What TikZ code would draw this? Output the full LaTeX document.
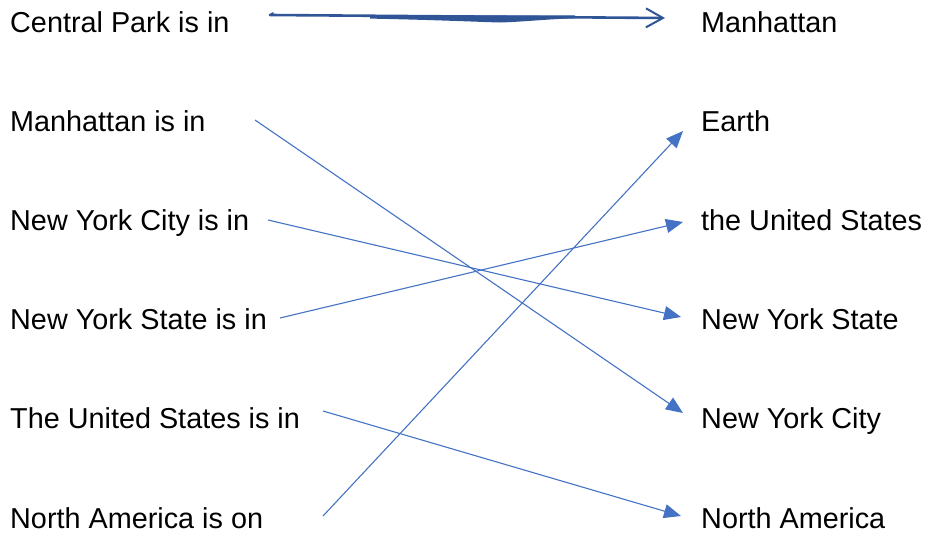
\documentclass[tikz,border=0pt]{standalone}
\usepackage{fontspec}
\setmainfont{Liberation Sans}
\usetikzlibrary{arrows.meta}
\definecolor{linkblue}{HTML}{4472C4}
\definecolor{inkblue}{HTML}{2F5597}
\begin{document}
\begin{tikzpicture}[x=1pt,y=-1pt,
    lbl/.style={anchor=base west,inner sep=0pt,font=\fontsize{28.8}{34}\selectfont},
    link/.style={draw=linkblue,line width=1.1pt,-{Triangle[length=17pt,width=14pt]}}]
        \useasboundingbox (0,0) rectangle (928,533);
        % left column
        \node[lbl] (cpi) at (10,32) {Central Park is in};
        \node[lbl] (mi) at (10,131) {Manhattan is in};
        \node[lbl] (nyci) at (10,230) {New York City is in};
        \node[lbl] (nysi) at (10,329) {New York State is in};
        \node[lbl] (usi) at (10,428) {The United States is in};
        \node[lbl] (nai) at (10,528) {North America is on};
        % right column
        \node[lbl] (man) at (701,32) {Manhattan};
        \node[lbl] (earth) at (701,131) {Earth};
        \node[lbl] (us) at (701,230) {the United States};
        \node[lbl] (nys) at (701,329) {New York State};
        \node[lbl] (nyc) at (701,428) {New York City};
        \node[lbl] (na) at (701,528) {North America};
        % arrow ends
        \coordinate (cpi-out) at (270,15);
        \coordinate (man-in) at (665,18);
        \coordinate (mi-out) at (255,120);
        \coordinate (nyc-in) at (683,413);
        \coordinate (nyci-out) at (268,220);
        \coordinate (nys-in) at (681,317);
        \coordinate (nysi-out) at (280,318);
        \coordinate (us-in) at (683,222);
        \coordinate (usi-out) at (323,411);
        \coordinate (na-in) at (681,516);
        \coordinate (nai-out) at (323,516);
        \coordinate (earth-in) at (683,131);
        % hand drawn one
        \fill[inkblue] (370,15.6) -- (370,18.6) .. controls (440,20) and (480,22) .. (500,22.5)
            .. controls (520,22) and (550,19) .. (575,18.2) -- (575,15.4) -- cycle;
        \draw[inkblue,line width=2.6pt,line cap=round,-{Straight Barb[length=17pt,width=19pt,line width=2pt]}] (cpi-out) -- (man-in);
        \draw[inkblue,line width=1.8pt,line cap=round] (cpi-out) -- (273,13);
        % the matches
        \draw[link] (mi-out) -- (nyc-in);
        \draw[link] (nyci-out) -- (nys-in);
        \draw[link] (nysi-out) -- (us-in);
        \draw[link] (usi-out) -- (na-in);
        \draw[link] (nai-out) -- (earth-in);
    \end{tikzpicture}
\end{document}
